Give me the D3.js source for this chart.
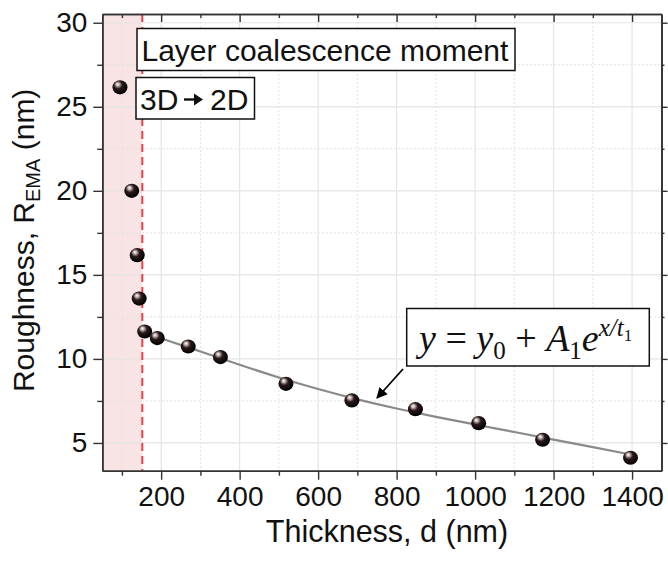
<!DOCTYPE html>
<html><head><meta charset="utf-8">
<script src="https://cdn.jsdelivr.net/npm/d3@7/dist/d3.min.js"></script>
<style>body{margin:0;background:#fff}svg{display:block}</style>
</head><body>
<svg id="chart" width="668" height="564"></svg>
<script>
// ---- data ----
const thickness = [95, 125, 139, 144, 158, 190, 269, 351, 518, 686, 848, 1009, 1172, 1396];
const roughness = [26.16, 20.0, 16.17, 13.59, 11.63, 11.24, 10.74, 10.11, 8.52, 7.53, 7.01, 6.18, 5.19, 4.12];
const fitThickness = [190, 300, 400, 500, 600, 700, 800, 900, 1000, 1100, 1200, 1300, 1400];
const fitRoughness = [11.3, 10.45, 9.65, 8.88, 8.2, 7.58, 7.04, 6.55, 6.1, 5.65, 5.2, 4.75, 4.3];
const xMajorTicks = [200, 400, 600, 800, 1000, 1200, 1400];
const xMinorTicks = [100, 300, 500, 700, 900, 1100, 1300];
const yMajorTicks = [5, 10, 15, 20, 25, 30];
const yMinorTicks = [7.5, 12.5, 17.5, 22.5, 27.5];
const coalescenceThickness = 152;
const xDomain = [50, 1475];
const yDomain = [3.35, 30.52];
const xTitle = "Thickness, d (nm)";
const labelCoalescence = "Layer coalescence moment";

(function () {
const svg = d3.select("#chart");
const L = 102.3, T = 14, R = 661.5, B = 470.7;
const SANS = "Liberation Sans, Arial, sans-serif";
const x = d3.scaleLinear().domain(xDomain).range([L, R]);
const y = d3.scaleLinear().domain(yDomain).range([B, T]);

const defs = svg.append("defs");
const grad = defs.append("radialGradient").attr("id", "ball")
  .attr("cx", "42%").attr("cy", "38%").attr("r", "62%").attr("fx", "34%").attr("fy", "28%");
grad.append("stop").attr("offset", "0%").attr("stop-color", "#ffffff");
grad.append("stop").attr("offset", "16%").attr("stop-color", "#cdbdbd");
grad.append("stop").attr("offset", "45%").attr("stop-color", "#2a1a1a");
grad.append("stop").attr("offset", "100%").attr("stop-color", "#000000");
defs.append("marker").attr("id", "arr").attr("viewBox", "0 0 10 10").attr("refX", 9).attr("refY", 5)
  .attr("markerWidth", 11).attr("markerHeight", 11).attr("markerUnits", "userSpaceOnUse").attr("orient", "auto")
  .append("path").attr("d", "M0,0 L10,5 L0,10 Z").attr("fill", "#000");

// shaded region
svg.append("rect").attr("x", x(xDomain[0])).attr("y", T)
  .attr("width", x(coalescenceThickness) - x(xDomain[0])).attr("height", B - T)
  .attr("fill", "#f8e4e4");

// grid
const g = svg.append("g");
g.selectAll(".gxm").data(xMinorTicks).join("line")
  .attr("x1", d => x(d)).attr("x2", d => x(d)).attr("y1", T).attr("y2", B)
  .attr("stroke", "#e2e2e2").attr("stroke-dasharray", "2,2").attr("stroke-width", 1);
g.selectAll(".gym").data(yMinorTicks).join("line")
  .attr("y1", d => y(d)).attr("y2", d => y(d)).attr("x1", L).attr("x2", R)
  .attr("stroke", "#e2e2e2").attr("stroke-dasharray", "2,2").attr("stroke-width", 1);
g.selectAll(".gxM").data(xMajorTicks).join("line")
  .attr("x1", d => x(d)).attr("x2", d => x(d)).attr("y1", T).attr("y2", B)
  .attr("stroke", "#e4e4e4").attr("stroke-width", 1.2);
g.selectAll(".gyM").data(yMajorTicks).join("line")
  .attr("y1", d => y(d)).attr("y2", d => y(d)).attr("x1", L).attr("x2", R)
  .attr("stroke", "#e4e4e4").attr("stroke-width", 1.2);

// red dashed line
svg.append("line").attr("x1", x(coalescenceThickness)).attr("x2", x(coalescenceThickness))
  .attr("y1", T).attr("y2", B).attr("stroke", "#e8414a").attr("stroke-width", 2)
  .attr("stroke-dasharray", "8,5");

// axes
const axisColor = "#333";
function styleAxis(sel) {
  sel.select(".domain").attr("stroke", axisColor).attr("stroke-width", 1.6);
  sel.selectAll(".tick line").attr("stroke", axisColor).attr("stroke-width", 1.4);
  sel.selectAll("text").attr("font-family", SANS).attr("font-size", 28).attr("fill", "#111");
}
const axB = svg.append("g").attr("transform", `translate(0,${B})`)
  .call(d3.axisBottom(x).tickValues(xMajorTicks).tickSize(9).tickPadding(6).tickSizeOuter(0).tickFormat(d3.format("d")));
styleAxis(axB);
const axBm = svg.append("g").attr("transform", `translate(0,${B})`)
  .call(d3.axisBottom(x).tickValues(xMinorTicks).tickSize(5).tickSizeOuter(0).tickFormat(""));
styleAxis(axBm);
const axL = svg.append("g").attr("transform", `translate(${L},0)`)
  .call(d3.axisLeft(y).tickValues(yMajorTicks).tickSize(9).tickPadding(6).tickSizeOuter(0).tickFormat(d3.format("d")));
styleAxis(axL);
const axLm = svg.append("g").attr("transform", `translate(${L},0)`)
  .call(d3.axisLeft(y).tickValues(yMinorTicks).tickSize(5).tickSizeOuter(0).tickFormat(""));
styleAxis(axLm);
const axT = svg.append("g").attr("transform", `translate(0,${T})`)
  .call(d3.axisTop(x).tickValues(xMajorTicks).tickSize(-8).tickSizeOuter(0).tickFormat(""));
styleAxis(axT);
const axTm = svg.append("g").attr("transform", `translate(0,${T})`)
  .call(d3.axisTop(x).tickValues(xMinorTicks).tickSize(-4).tickSizeOuter(0).tickFormat(""));
styleAxis(axTm);
const axR = svg.append("g").attr("transform", `translate(${R},0)`)
  .call(d3.axisRight(y).tickValues(yMajorTicks).tickSize(6).tickSizeOuter(0).tickFormat(""));
styleAxis(axR);
const axRm = svg.append("g").attr("transform", `translate(${R},0)`)
  .call(d3.axisRight(y).tickValues(yMinorTicks).tickSize(3).tickSizeOuter(0).tickFormat(""));
styleAxis(axRm);

// fit curve
const fitData = fitThickness.map((t, i) => [t, fitRoughness[i]]);
svg.append("path").datum(fitData)
  .attr("d", d3.line().x(d => x(d[0])).y(d => y(d[1])).curve(d3.curveBasis))
  .attr("fill", "none").attr("stroke", "#8a8a8a").attr("stroke-width", 2.2);

// points
const pts = thickness.map((t, i) => [t, roughness[i]]);
svg.selectAll(".pt").data(pts).join("ellipse")
  .attr("cx", d => x(d[0])).attr("cy", d => y(d[1])).attr("rx", 7.5).attr("ry", 7.1)
  .attr("fill", "url(#ball)");

// axis titles
svg.append("text").attr("x", 387).attr("y", 542).attr("text-anchor", "middle")
  .attr("font-family", SANS).attr("font-size", 30.5).attr("fill", "#111")
  .text(xTitle);
const yt = svg.append("text").attr("transform", `translate(34,${(T + B) / 2 - 2}) rotate(-90)`)
  .attr("text-anchor", "middle")
  .attr("font-family", SANS).attr("font-size", 30).attr("fill", "#111");
yt.append("tspan").text("Roughness, R");
yt.append("tspan").attr("font-size", 20).attr("dy", 6).text("EMA");
yt.append("tspan").attr("dy", -6).text(" (nm)");

// annotation boxes
function box(x0, y0, w, h) {
  svg.append("rect").attr("x", x0).attr("y", y0).attr("width", w).attr("height", h)
    .attr("fill", "#fff").attr("stroke", "#111").attr("stroke-width", 1.5);
}
box(137, 28.5, 378, 42);
svg.append("text").attr("x", 141.5).attr("y", 61).attr("font-family", SANS)
  .attr("font-size", 30).attr("fill", "#111").text(labelCoalescence);

box(136, 77.5, 118.5, 41.5);
svg.append("text").attr("x", 140).attr("y", 110).attr("font-family", SANS)
  .attr("font-size", 30).attr("fill", "#111").text("3D");
const ax0 = 184, ax1 = 203;
svg.append("line").attr("x1", ax0).attr("x2", ax1 - 6).attr("y1", 99.5).attr("y2", 99.5)
  .attr("stroke", "#111").attr("stroke-width", 2.4);
svg.append("path").attr("d", `M${ax1 - 9},93.5 L${ax1},99.5 L${ax1 - 9},105.5 Z`).attr("fill", "#111");
svg.append("text").attr("x", 210).attr("y", 110).attr("font-family", SANS)
  .attr("font-size", 30).attr("fill", "#111").text("2D");

// formula box
box(406.7, 308.5, 242.6, 57.5);
const f = svg.append("text").attr("x", 419).attr("y", 351)
  .attr("font-family", "Liberation Serif, Times New Roman, serif").attr("font-size", 38).attr("fill", "#111");
f.append("tspan").attr("font-style", "italic").text("y");
f.append("tspan").text(" = ");
f.append("tspan").attr("font-style", "italic").text("y");
f.append("tspan").attr("font-size", 25).attr("dy", 8).text("0");
f.append("tspan").attr("dy", -8).text(" + ");
f.append("tspan").attr("font-style", "italic").text("A");
f.append("tspan").attr("font-size", 25).attr("dy", 8).text("1");
f.append("tspan").attr("dy", -8).attr("font-style", "italic").text("e");
f.append("tspan").attr("font-size", 25).attr("dy", -15).attr("font-style", "italic").text("x/t");
f.append("tspan").attr("font-size", 17).attr("dy", 5).text("1");

// arrow to curve
svg.append("line").attr("x1", 403).attr("y1", 369).attr("x2", 377).attr("y2", 398)
  .attr("stroke", "#000").attr("stroke-width", 1.8).attr("marker-end", "url(#arr)");
})();
</script>
</body></html>
